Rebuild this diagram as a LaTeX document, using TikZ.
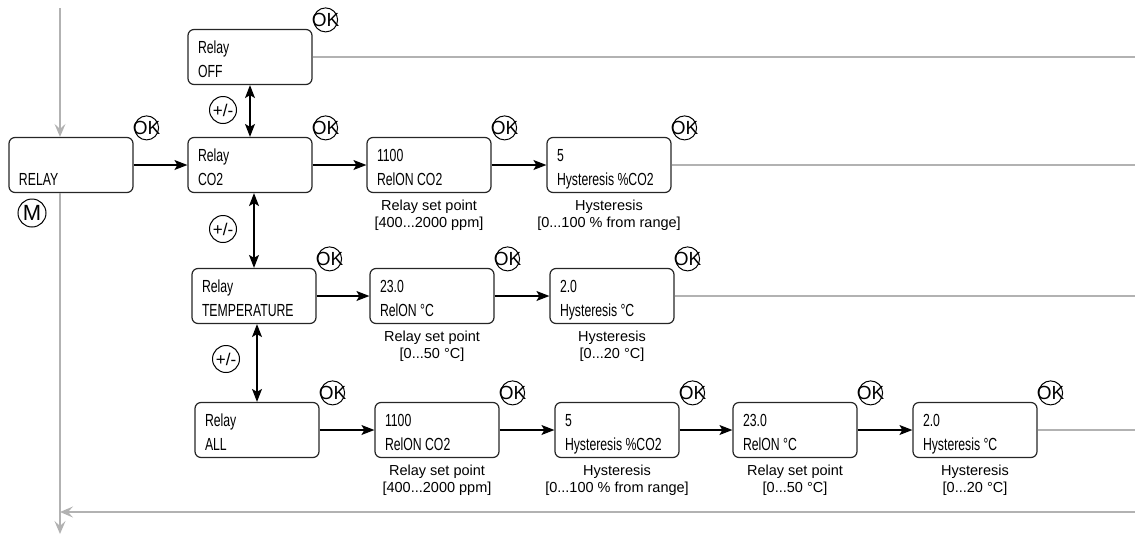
\documentclass[tikz,border=0pt]{standalone}
\usepackage{fontspec}
\setmainfont{Liberation Sans}
\newfontfamily\narrowfont{Liberation Sans}[FakeStretch=0.7]
\usetikzlibrary{arrows.meta}
\begin{document}
\begin{tikzpicture}[x=1pt,y=-1pt,
  scr/.style={draw=black!85,line width=1.2pt,rounded corners=6pt,minimum width=124pt,minimum height=55pt,text width=104pt,inner xsep=10pt,inner ysep=0pt,align=flush left,font=\narrowfont\fontsize{17.5}{24.5}\selectfont,
    execute at begin node=\rule{0pt}{20.5pt},execute at end node=\rule[-4pt]{0pt}{4pt}},
  ok/.style={draw,circle,line width=1pt,minimum size=24pt,inner sep=-5pt,font=\fontsize{19}{19}\selectfont},
  key/.style={draw,circle,line width=1pt,minimum size=27pt,inner sep=0pt,font=\fontsize{17}{17}\selectfont},
  note/.style={below=5pt,align=center,font=\fontsize{14.5}{17}\selectfont,inner sep=2pt},
  go/.style={-{Stealth[length=13pt,width=10pt,inset=3pt]},line width=1.2pt},
  both/.style={{Stealth[length=13pt,width=10pt,inset=3pt]}-{Stealth[length=13pt,width=10pt,inset=3pt]},line width=1.2pt},
  flow/.style={draw=gray!60,line width=1.3pt},
  flowto/.style={flow,-{Stealth[length=13pt,width=11pt,inset=5pt]}}]
\useasboundingbox (0,0) rectangle (1135,536);
\node[scr] (relay) at (71,165) {\mbox{}\\RELAY};
\node[scr] (off) at (250,57) {Relay\\OFF};
\node[scr] (co2) at (250,165) {Relay\\CO2};
\node[scr] (co2set) at (429,165) {1100\\RelON CO2};
\node[scr] (co2hys) at (609,165) {5\\Hysteresis \%CO2};
\node[scr] (temp) at (254,296) {Relay\\TEMPERATURE};
\node[scr] (tset) at (432,296) {23.0\\RelON °C};
\node[scr] (thys) at (612,296) {2.0\\Hysteresis °C};
\node[scr] (all) at (257,430) {Relay\\ALL};
\node[scr] (allset) at (437,430) {1100\\RelON CO2};
\node[scr] (allhys) at (617,430) {5\\Hysteresis \%CO2};
\node[scr] (alltset) at (795,430) {23.0\\RelON °C};
\node[scr] (allthys) at (975,430) {2.0\\Hysteresis °C};
\foreach \b in {relay,off,co2,co2set,co2hys,temp,tset,thys,all,allset,allhys,alltset,allthys}
  \node[ok] (ok-\b) at ([shift={(13,-9)}]\b.north east) {OK};
\node[note] (co2set-n) at (co2set.south) {Relay set point\\{[400...2000 ppm]}};
\node[note] (co2hys-n) at (co2hys.south) {Hysteresis\\{[0...100 \% from range]}};
\node[note] (tset-n) at (tset.south) {Relay set point\\{[0...50 °C]}};
\node[note] (thys-n) at (thys.south) {Hysteresis\\{[0...20 °C]}};
\node[note] (allset-n) at (allset.south) {Relay set point\\{[400...2000 ppm]}};
\node[note] (allhys-n) at (allhys.south) {Hysteresis\\{[0...100 \% from range]}};
\node[note] (alltset-n) at (alltset.south) {Relay set point\\{[0...50 °C]}};
\node[note] (allthys-n) at (allthys.south) {Hysteresis\\{[0...20 °C]}};
\node[key] (pm1) at (223,110) {+/-};
\node[key] (pm2) at (223,229) {+/-};
\node[key] (pm3) at (226,359) {+/-};
\node[key,minimum size=28pt,font=\fontsize{22}{22}\selectfont] (menu) at (32,213) {M};
\foreach \a/\b in {relay/co2,co2/co2set,co2set/co2hys,temp/tset,tset/thys,all/allset,allset/allhys,allhys/alltset,alltset/allthys}
  \draw[go] (\a) -- (\b);
\draw[both] (off) -- (co2);
\draw[both] (temp.north |- co2.south) -- (temp.north);
\draw[both] (all.north |- temp.south) -- (all.north);
\coordinate (in) at (60,8);
\coordinate (out) at (60,534);
\coordinate (edge) at (1135,512);
\draw[flowto] (in) -- (in |- relay.north);
\draw[flowto] (in |- relay.south) -- (out);
\draw[flowto] (edge) -- (edge -| out);
\foreach \b in {off,co2hys,thys,allthys}
  \draw[flow] (\b.east) -- (\b.east -| edge);
\end{tikzpicture}
\end{document}
